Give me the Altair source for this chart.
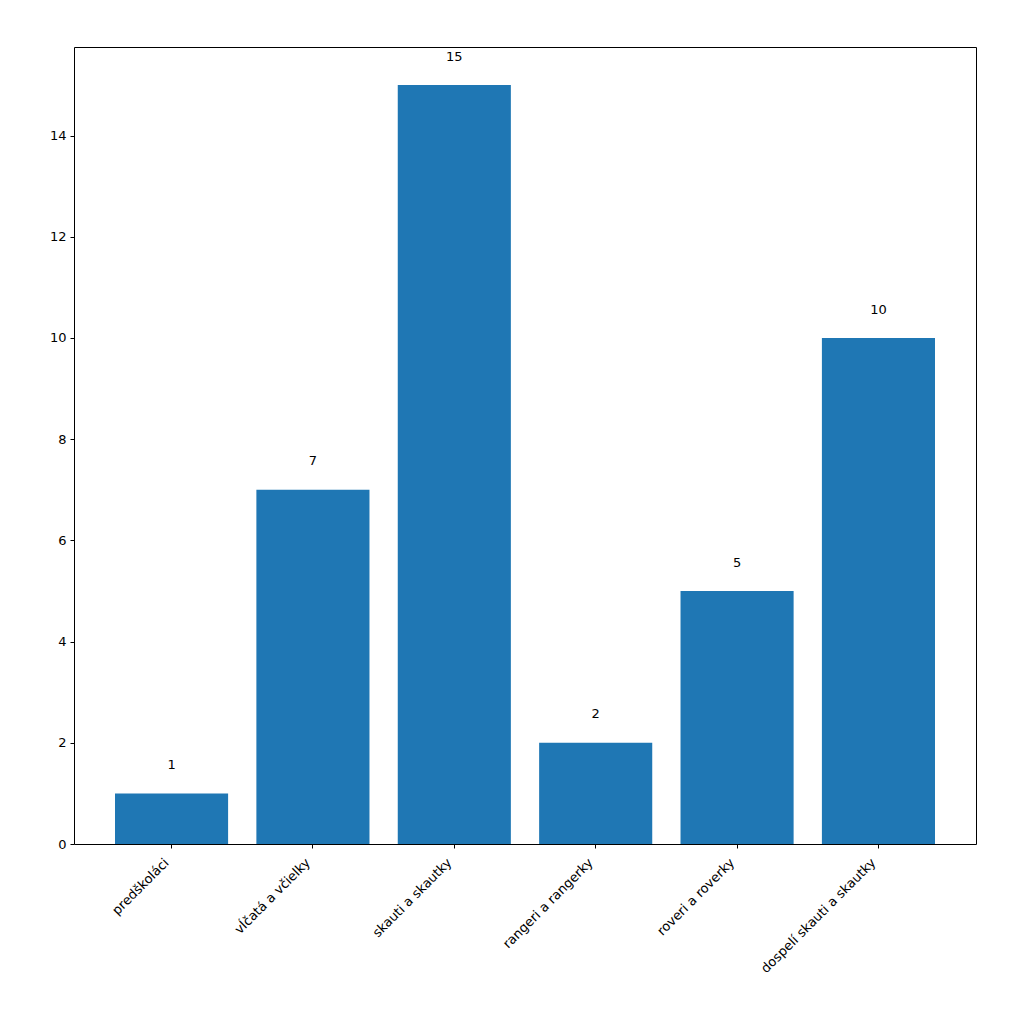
import altair as alt
import pandas as pd

categories = ["predškoláci", "vĺčatá a včielky", "skauti a skautky",
              "rangeri a rangerky", "roveri a roverky", "dospelí skauti a skautky"]
values = [1, 7, 15, 2, 5, 10]

df = pd.DataFrame({"cat": categories, "val": values})
df["lab_y"] = df["val"] + 0.5

FONT = "DejaVu Sans"

x = alt.X("cat:N", sort=categories, title=None,
          scale=alt.Scale(paddingInner=0.2, paddingOuter=0.29),
          axis=alt.Axis(labelAngle=-45, labelAlign="right", labelBaseline="top",
                        labelFontSize=13, labelFont=FONT, labelColor="black",
                        tickColor="black", tickSize=4, labelPadding=8,
                        labelOffset=-9,
                        domain=False, grid=False))

bars = alt.Chart(df).mark_bar(color="#1f77b4").encode(
    x=x,
    y=alt.Y("val:Q", title=None,
            scale=alt.Scale(domain=[0, 15.75], nice=False, zero=True),
            axis=alt.Axis(values=[0, 2, 4, 6, 8, 10, 12, 14], labelFontSize=13,
                          labelFont=FONT, labelColor="black", tickColor="black",
                          tickSize=4, labelPadding=4, domain=False, grid=False)),
)

text = alt.Chart(df).mark_text(baseline="bottom", fontSize=13, font=FONT,
                               color="black", dy=4).encode(
    x=alt.X("cat:N", sort=categories),
    y=alt.Y("lab_y:Q"),
    text=alt.Text("val:Q"),
)

chart = (bars + text).properties(
    width=902, height=797,
    autosize=alt.AutoSizeParams(type="none"),
    padding={"left": 66, "top": 39, "right": 40, "bottom": 170},
).configure(background="white").configure_view(stroke="black", strokeWidth=1)

chart.save("out.html", embed_options={"renderer": "svg", "actions": False})
